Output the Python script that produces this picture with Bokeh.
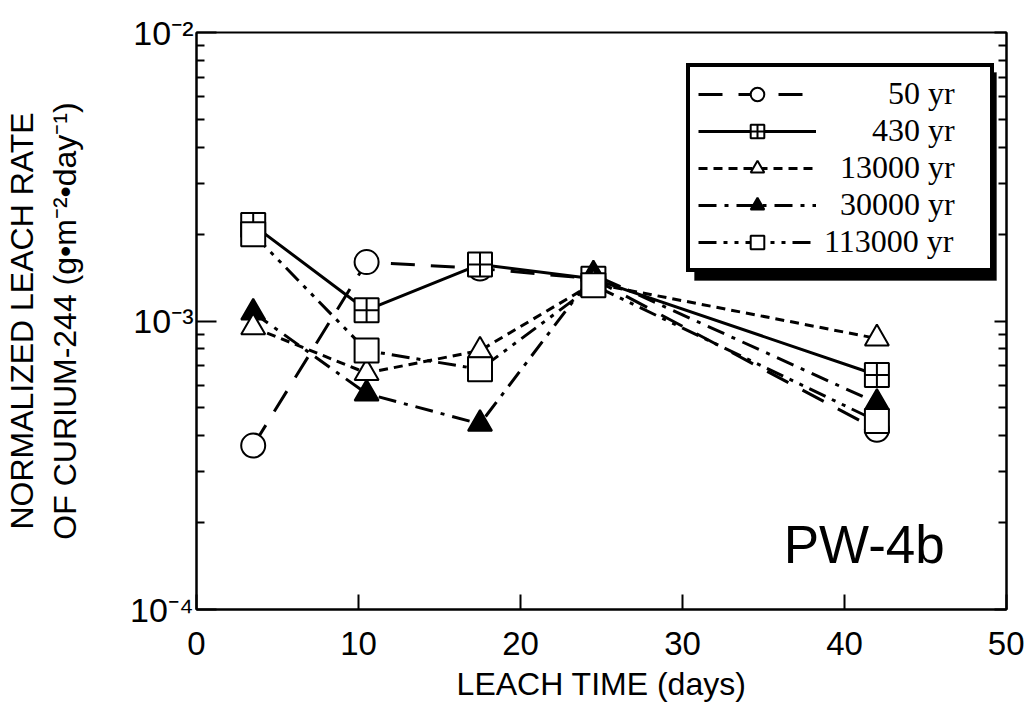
from bokeh.plotting import figure
from bokeh.models import (FixedTicker, LogAxis, Legend, LegendItem, Label,
                          BoxAnnotation, CustomJSTickFormatter)
from bokeh.embed import file_html
from bokeh.resources import INLINE

# ---- data ----
days = [3.5, 10.5, 17.5, 24.5, 42]
yr50 = [3.7e-4, 1.6e-3, 1.52e-3, 1.4e-3, 4.2e-4]
yr430 = [2.15e-3, 1.09e-3, 1.57e-3, 1.4e-3, 6.5e-4]
yr13000 = [9.5e-4, 6.6e-4, 7.9e-4, 1.35e-3, 8.7e-4]
yr30000 = [1.07e-3, 5.6e-4, 4.4e-4, 1.45e-3, 5.2e-4]
yr113000 = [2.0e-3, 7.9e-4, 6.8e-4, 1.33e-3, 4.5e-4]

labels = ["50 yr", "430 yr", "13000 yr", "30000 yr", "113000 yr"]
x_ticks = [0, 10, 20, 30, 40, 50]
y_ticks = [1e-4, 1e-3, 1e-2]
y_tick_labels = ["10\u207b\u2074", "10\u207b\u00b3", "10\u207b\u00b2"]
panel_label = "PW-4b"

SANS = "Liberation Sans"
SERIF = "Liberation Serif"

W, H = 1024, 712
p = figure(width=W, height=H, x_range=(0, 50), y_range=(1e-4, 1e-2),
           y_axis_type="log", output_backend="svg", toolbar_location=None,
           min_border_left=195, min_border_right=18, min_border_top=32,
           min_border_bottom=H - 609)
p.xgrid.visible = False
p.ygrid.visible = False
p.outline_line_color = "black"
p.outline_line_width = 2
p.background_fill_color = "white"
p.border_fill_color = "white"

# x axis
xa = p.xaxis[0]
xa.ticker = FixedTicker(ticks=x_ticks)
xa.major_tick_in = 15
xa.major_tick_out = 0
xa.minor_tick_in = 0
xa.minor_tick_out = 0
xa.axis_line_width = 2
xa.major_tick_line_width = 2
xa.major_label_text_font = SANS
xa.major_label_text_font_size = "33px"
xa.major_label_text_color = "black"
xa.major_label_standoff = 22
xa.axis_label = "LEACH TIME (days)"
xa.axis_label_text_font = SANS
xa.axis_label_text_font_size = "32px"
xa.axis_label_text_font_style = "normal"
xa.axis_label_text_color = "black"
xa.axis_label_standoff = 8

# y axis
minor = []
for dec in [1e-4, 1e-3]:
    for k in range(2, 10):
        minor.append(k * dec)
ya = p.yaxis[0]
ya.ticker = FixedTicker(ticks=y_ticks, minor_ticks=minor)
ya.major_label_overrides = {t: s for t, s in zip(y_ticks, y_tick_labels)}
ya.major_tick_in = 20
ya.major_tick_out = 0
ya.minor_tick_in = 8
ya.minor_tick_out = 0
ya.axis_line_width = 2
ya.major_tick_line_width = 2
ya.minor_tick_line_width = 2
ya.major_label_text_font = SANS
ya.major_label_text_font_size = "34px"
ya.major_label_text_color = "black"
ya.major_label_standoff = 3
ya.axis_label = "NORMALIZED LEACH RATE\nOF CURIUM-244 (g\u2022m\u207b\u00b2\u2022day\u207b\u00b9)"
ya.axis_label_text_font = SANS
ya.axis_label_text_font_size = "32px"
ya.axis_label_text_font_style = "normal"
ya.axis_label_text_color = "black"
ya.axis_label_standoff = 44

# right axis: ticks only
ra = LogAxis(ticker=FixedTicker(ticks=y_ticks, minor_ticks=minor),
             formatter=CustomJSTickFormatter(code="return ''"))
ra.major_tick_in = 12
ra.major_tick_out = 0
ra.minor_tick_in = 8
ra.minor_tick_out = 0
ra.major_label_standoff = 0
ra.axis_line_width = 2
ra.major_tick_line_width = 2
ra.minor_tick_line_width = 2
p.add_layout(ra, "right")

series = [yr50, yr430, yr13000, yr30000, yr113000]
dashes = ["24 16", "solid", "9 6", "18 8 4 8", "18 7 4 7 4 7"]
markers = ["circle", "square_cross", "triangle", "triangle", "square"]
fills = ["white", "white", "white", "black", "white"]

line_r = []
for vals, dash in zip(series, dashes):
    line_r.append(p.line(days, vals, line_color="black", line_width=3,
                         line_dash=dash))

draw_order = [0, 1, 3, 2, 4]
mark_r = [None] * 5
for i in draw_order:
    mark_r[i] = p.scatter(days, series[i], marker=markers[i], size=24,
                          fill_color=fills[i], line_color="black", line_width=2)

# legend shadow (decorative)
shadow = BoxAnnotation(left=694, right=996, top=72, bottom=280,
                       left_units="canvas", right_units="canvas",
                       top_units="canvas", bottom_units="canvas",
                       fill_color="black", fill_alpha=1, line_color="black")
p.add_layout(shadow)

# right-align legend texts with figure spaces (digit-width)
longest = max(len(s) for s in labels)
shown = ["\u2007" * (longest - len(s)) + s for s in labels]
items = [LegendItem(label=lab, renderers=[line_r[i], mark_r[i]])
         for i, lab in enumerate(shown)]
legend = Legend(items=items, location=(685 - 195, 609 - 272),
                label_text_font=SERIF, label_text_font_size="32px",
                label_text_color="black", label_text_line_height=0.9,
                glyph_width=118, glyph_height=34, label_height=34,
                label_width=158, label_standoff=8, padding=8, spacing=0,
                margin=0, border_line_color="black", border_line_width=4,
                border_line_alpha=1,
                background_fill_color="white", background_fill_alpha=1)
p.add_layout(legend)

p.add_layout(Label(x=36.25, y=1.68e-4, text=panel_label, text_font=SANS,
                   text_font_size="53px", text_color="black",
                   text_baseline="alphabetic"))

open("out.html", "w").write(file_html(p, INLINE))
